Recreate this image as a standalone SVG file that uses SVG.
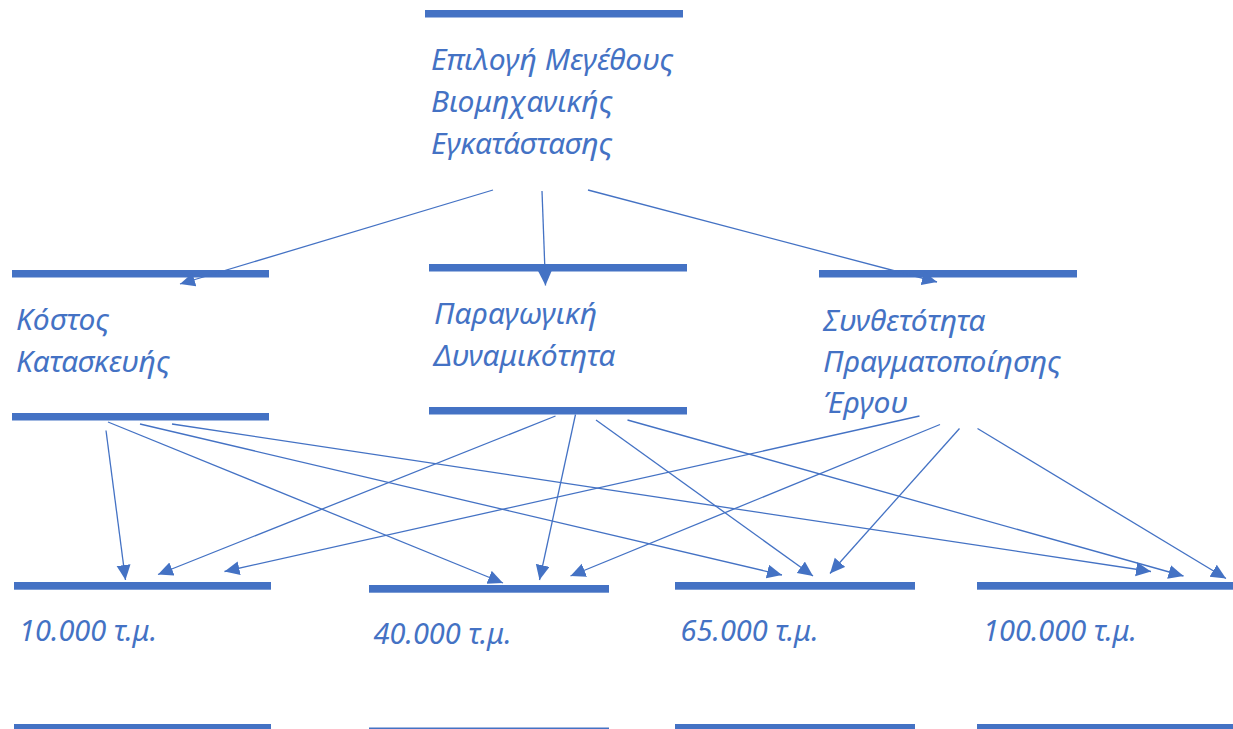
<svg xmlns="http://www.w3.org/2000/svg" width="1233" height="729" viewBox="0 0 1233 729">
  <style>
    .bar { fill: #4472C4; }
    .lbl { font-family: "Noto Sans", "Liberation Sans", sans-serif; font-style: italic; font-size: 30px; fill: #4472C4; }
    .num { font-size: 29px; }
    .edge { stroke: #4472C4; stroke-width: 1.3; fill: none; marker-end: url(#arrow); }
  </style>
  <defs>
    <marker id="arrow" markerUnits="userSpaceOnUse" markerWidth="16" markerHeight="15" refX="15" refY="7" orient="auto">
      <path d="M0,0 L15,7 L0,14 z" fill="#4472C4"/>
    </marker>
  </defs>

  <rect width="1233" height="729" fill="#ffffff"/>

  <!-- top: plant size choice -->
  <g id="node-size">
    <rect class="bar" x="425" y="10" width="258" height="7.5"/>
    <text class="lbl" x="431" y="70">Επιλογή Μεγέθους</text>
    <text class="lbl" x="431" y="112">Βιομηχανικής</text>
    <text class="lbl" x="431" y="154">Εγκατάστασης</text>
  </g>

  <!-- criteria -->
  <g id="node-cost">
    <rect class="bar" x="12" y="270" width="257" height="7.5"/>
    <text class="lbl" x="16" y="330">Κόστος</text>
    <text class="lbl" x="16" y="372">Κατασκευής</text>
    <rect class="bar" x="12" y="413" width="257" height="7.5"/>
  </g>
  <g id="node-capacity">
    <rect class="bar" x="429" y="264" width="258" height="7.5"/>
    <text class="lbl" x="434" y="324">Παραγωγική</text>
    <text class="lbl" x="434" y="366">Δυναμικότητα</text>
    <rect class="bar" x="429" y="407" width="258" height="7.5"/>
  </g>
  <g id="node-complexity">
    <rect class="bar" x="819" y="270" width="258" height="7.5"/>
    <text class="lbl" x="823" y="331">Συνθετότητα</text>
    <text class="lbl" x="823" y="372">Πραγματοποίησης</text>
    <text class="lbl" x="823" y="413">Έργου</text>
  </g>

  <!-- alternatives -->
  <g id="node-10000">
    <rect class="bar" x="14" y="582" width="257" height="7.7"/>
    <text class="lbl num" x="19" y="641">10.000 τ.μ.</text>
    <rect class="bar" x="14" y="724" width="257" height="8"/>
  </g>
  <g id="node-40000">
    <rect class="bar" x="369" y="585" width="240" height="7.7"/>
    <text class="lbl num" x="373.5" y="644">40.000 τ.μ.</text>
    <rect class="bar" x="369" y="727.5" width="240" height="8"/>
  </g>
  <g id="node-65000">
    <rect class="bar" x="675" y="582" width="240" height="7.7"/>
    <text class="lbl num" x="680.5" y="641">65.000 τ.μ.</text>
    <rect class="bar" x="675" y="724" width="240" height="8"/>
  </g>
  <g id="node-100000">
    <rect class="bar" x="977" y="582" width="256" height="7.7"/>
    <text class="lbl num" x="983" y="641">100.000 τ.μ.</text>
    <rect class="bar" x="977" y="724" width="256" height="8"/>
  </g>

  <g id="connectors">
    <!-- size choice to criteria -->
    <line class="edge" x1="493" y1="190" x2="180" y2="284"/>
    <line class="edge" x1="542" y1="191" x2="545.5" y2="285.5"/>
    <line class="edge" x1="588" y1="190" x2="937" y2="282"/>
    <!-- cost to alternatives -->
    <line class="edge" x1="106" y1="430.5" x2="125.5" y2="580"/>
    <line class="edge" x1="108" y1="422" x2="503" y2="583"/>
    <line class="edge" x1="140" y1="424" x2="782" y2="575"/>
    <line class="edge" x1="172" y1="424" x2="1151" y2="571.5"/>
    <!-- capacity to alternatives -->
    <line class="edge" x1="555.5" y1="416" x2="158" y2="574.5"/>
    <line class="edge" x1="575.5" y1="414.5" x2="539.5" y2="580"/>
    <line class="edge" x1="596" y1="420" x2="813" y2="576"/>
    <line class="edge" x1="627.5" y1="420" x2="1183.5" y2="576"/>
    <!-- complexity to alternatives -->
    <line class="edge" x1="919.5" y1="416" x2="224.5" y2="571.5"/>
    <line class="edge" x1="940" y1="424.5" x2="570.5" y2="576"/>
    <line class="edge" x1="959.5" y1="428.5" x2="830" y2="573.5"/>
    <line class="edge" x1="977.5" y1="428.5" x2="1226" y2="578.5"/>
  </g>
</svg>
